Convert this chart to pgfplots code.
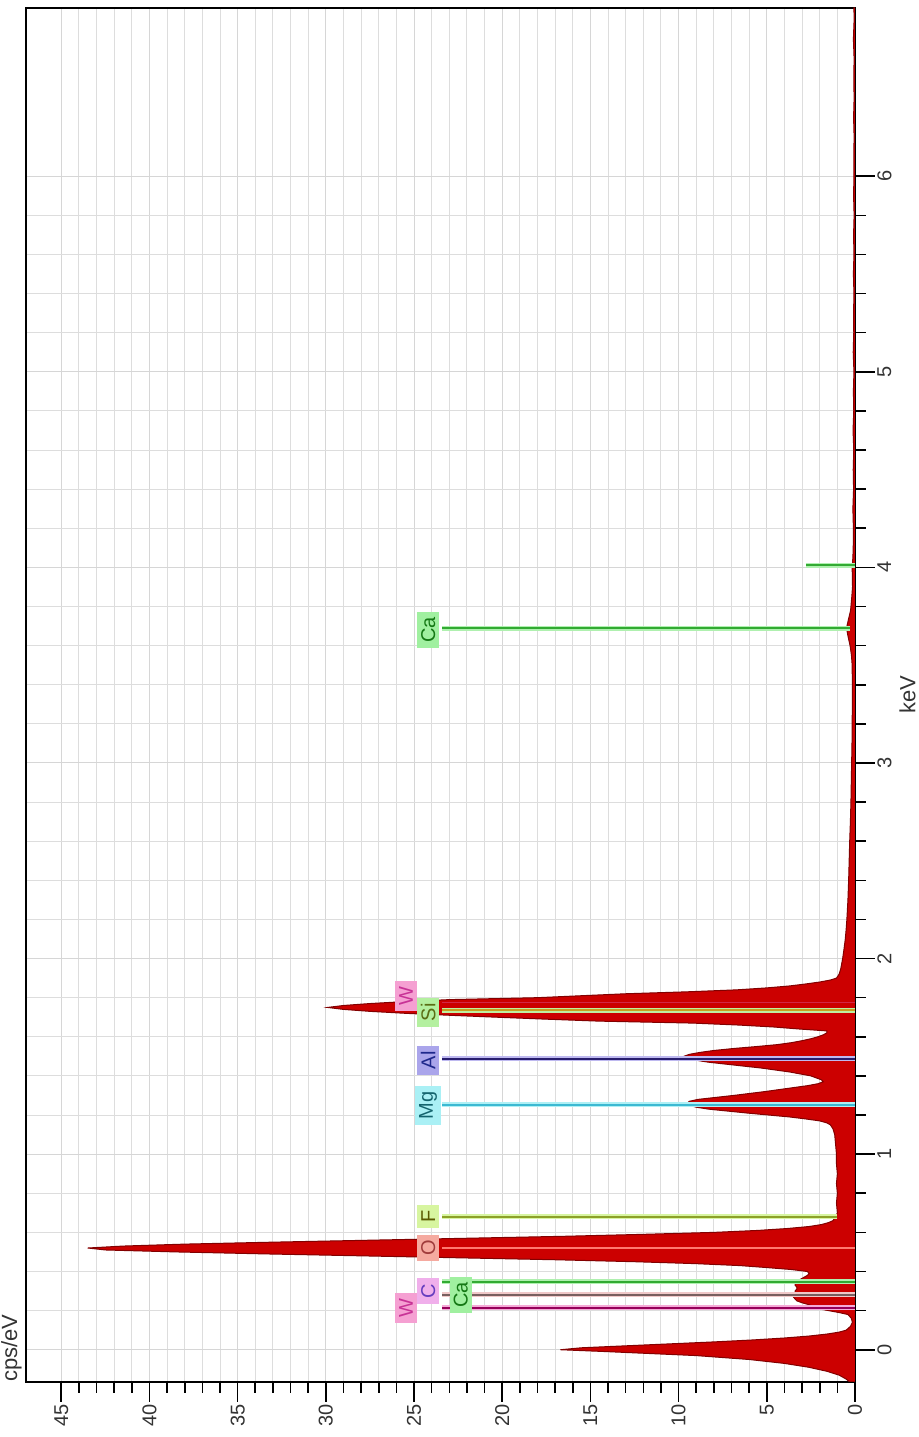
\documentclass[border=0pt]{standalone}
\usepackage{fontspec}
\setmainfont{Liberation Sans}
\usepackage{pgfplots}
\usepackage{pgfplotstable}
\pgfplotsset{compat=1.18}

\definecolor{specfill}{RGB}{204,0,0}
\definecolor{specdraw}{RGB}{130,0,0}
\definecolor{Wcore}{RGB}{150,0,90}
\definecolor{Whalo}{RGB}{245,170,215}
\definecolor{Wbox}{RGB}{245,160,210}
\definecolor{Wtext}{RGB}{200,50,150}
\definecolor{Ccore}{RGB}{120,95,95}
\definecolor{Chalo}{RGB}{240,200,200}
\definecolor{Cbox}{RGB}{240,175,235}
\definecolor{Ctext}{RGB}{100,60,190}
\definecolor{Cacore}{RGB}{50,170,50}
\definecolor{Cahalo}{RGB}{175,240,175}
\definecolor{Cabox}{RGB}{160,240,160}
\definecolor{Catext}{RGB}{20,120,20}
\definecolor{Ocore}{RGB}{255,120,110}
\definecolor{Obox}{RGB}{245,170,160}
\definecolor{Otext}{RGB}{160,60,60}
\definecolor{Fcore}{RGB}{140,160,40}
\definecolor{Fhalo}{RGB}{215,245,160}
\definecolor{Fbox}{RGB}{215,245,160}
\definecolor{Ftext}{RGB}{90,90,0}
\definecolor{Mgcore}{RGB}{60,185,210}
\definecolor{Mghalo}{RGB}{175,240,245}
\definecolor{Mgbox}{RGB}{170,240,245}
\definecolor{Mgtext}{RGB}{20,100,110}
\definecolor{Alcore}{RGB}{40,30,110}
\definecolor{Alhalo}{RGB}{190,185,240}
\definecolor{Albox}{RGB}{170,165,235}
\definecolor{Altext}{RGB}{30,40,140}
\definecolor{Sicore}{RGB}{200,160,30}
\definecolor{Sihalo}{RGB}{190,240,160}
\definecolor{Sibox}{RGB}{180,240,160}
\definecolor{Sitext}{RGB}{90,110,20}
\definecolor{Wtwocore}{RGB}{210,40,70}

\pgfplotstableread{
keV cps
-0.165 0
-0.165 0.3
-0.15 0.5
-0.13 0.9
-0.11 1.6
-0.09 2.6
-0.07 4.0
-0.05 6.0
-0.03 9.0
-0.02 11.5
-0.01 14.0
0.00 16.7
0.01 15.5
0.02 13.0
0.03 10.5
0.04 8.0
0.05 5.8
0.06 4.0
0.07 2.6
0.08 1.6
0.09 0.9
0.10 0.5
0.12 0.25
0.14 0.15
0.16 0.2
0.18 0.4
0.19 0.9
0.20 1.5
0.21 2.1
0.22 2.3
0.23 2.6
0.24 3.0
0.25 3.3
0.26 3.4
0.27 3.5
0.28 3.5
0.29 3.4
0.30 3.4
0.31 3.3
0.32 3.3
0.33 3.4
0.34 3.4
0.35 3.3
0.36 3.1
0.37 2.9
0.38 2.7
0.39 2.6
0.40 2.7
0.41 3.6
0.42 5.0
0.43 6.5
0.44 9.0
0.45 12.5
0.46 17.0
0.47 22.5
0.48 28.0
0.49 33.5
0.50 38.5
0.51 42.5
0.52 43.5
0.53 41.5
0.54 38.0
0.55 33.0
0.56 27.5
0.57 22.0
0.58 16.5
0.59 12.0
0.60 8.0
0.61 5.5
0.62 3.8
0.63 2.6
0.64 1.9
0.65 1.5
0.66 1.25
0.68 1.1
0.70 1.0
0.75 1.05
0.80 1.0
0.85 1.05
0.90 1.0
0.95 1.05
1.00 1.05
1.05 1.1
1.10 1.15
1.13 1.25
1.15 1.4
1.16 1.6
1.17 2.0
1.18 2.8
1.19 3.7
1.20 4.9
1.21 6.1
1.22 7.2
1.23 8.3
1.24 9.0
1.25 9.4
1.26 9.5
1.27 9.4
1.28 8.9
1.29 7.9
1.30 6.9
1.31 6.0
1.32 5.1
1.33 4.3
1.34 3.5
1.35 2.7
1.36 2.1
1.37 1.8
1.38 1.9
1.39 2.2
1.40 2.5
1.41 3.1
1.42 3.7
1.43 4.5
1.44 5.3
1.45 6.3
1.46 7.3
1.47 8.3
1.48 9.0
1.49 9.5
1.50 9.7
1.51 9.4
1.52 8.8
1.53 8.0
1.54 6.9
1.55 5.6
1.56 4.4
1.57 3.6
1.58 3.0
1.59 2.5
1.60 2.1
1.61 1.8
1.62 1.6
1.63 1.6
1.64 3.2
1.65 4.6
1.66 6.6
1.67 9.2
1.68 14.5
1.69 17.5
1.70 20.3
1.71 23.0
1.72 25.5
1.73 27.5
1.74 29.0
1.75 29.9
1.76 29.0
1.77 27.5
1.78 25.5
1.79 23.0
1.80 18.0
1.81 15.5
1.82 13.0
1.83 9.5
1.84 6.7
1.85 5.0
1.86 3.7
1.87 2.8
1.88 2.0
1.89 1.4
1.90 1.05
1.92 0.9
1.95 0.8
2.00 0.70
2.05 0.62
2.10 0.55
2.15 0.50
2.20 0.46
2.30 0.40
2.40 0.36
2.50 0.33
2.60 0.30
2.70 0.26
2.80 0.23
2.90 0.21
3.00 0.19
3.10 0.17
3.20 0.16
3.30 0.15
3.40 0.15
3.50 0.16
3.55 0.20
3.60 0.28
3.65 0.40
3.69 0.48
3.73 0.38
3.78 0.25
3.85 0.18
3.90 0.14
4.00 0.16
4.05 0.12
4.10 0.10
4.20 0.09
4.30 0.12
4.40 0.08
4.50 0.10
4.60 0.07
4.70 0.11
4.80 0.07
4.90 0.09
5.00 0.06
5.10 0.10
5.20 0.07
5.30 0.08
5.40 0.06
5.50 0.09
5.60 0.06
5.70 0.08
5.80 0.05
5.90 0.08
6.00 0.06
6.10 0.07
6.20 0.05
6.30 0.08
6.40 0.05
6.50 0.07
6.60 0.05
6.70 0.09
6.80 0.05
6.86 0.06
6.86 0
}\spec

\begin{document}
\begin{tikzpicture}
\begin{axis}[
  scale only axis,
  width=414.5pt, height=687pt,
  xmin=0, xmax=47, x dir=reverse,
  ymin=-0.165, ymax=6.86,
  xtick={0,5,...,45}, minor x tick num=4,
  ytick={0,1,...,6}, minor y tick num=4,
  xtick pos=bottom, ytick pos=right, yticklabel pos=right,
  tick align=outside,
  major tick length=10pt, minor tick length=5.5pt,
  tick style={black, line width=0.8pt},
  grid=both,
  major grid style={gray!32, line width=0.5pt},
  minor grid style={gray!27, line width=0.5pt},
  axis line style={black, line width=1.1pt},
  /pgf/number format/assume math mode=true,
  ticklabel style={font=\fontsize{10}{12}\selectfont, text=black!80},
  xticklabel style={rotate=90, anchor=east, inner sep=1pt},
  yticklabel style={rotate=90, anchor=north, inner sep=1pt},
]
\addplot[fill=specfill, draw=specdraw, line width=0.5pt] table[x=cps, y=keV] {\spec};

% element lines (halo + core)
\addplot[draw=Whalo, line width=2.5pt] coordinates {(0,0.215) (23.4,0.215)};
\addplot[draw=Wcore, line width=0.9pt] coordinates {(0,0.215) (23.4,0.215)};
\addplot[draw=Chalo, line width=2.5pt] coordinates {(0,0.28) (23.4,0.28)};
\addplot[draw=Ccore, line width=0.9pt] coordinates {(0,0.28) (23.4,0.28)};
\addplot[draw=Cahalo, line width=2.5pt] coordinates {(0,0.347) (23.4,0.347)};
\addplot[draw=Cacore, line width=0.9pt] coordinates {(0,0.347) (23.4,0.347)};
\addplot[draw=Ocore, line width=0.8pt] coordinates {(0,0.52) (23.4,0.52)};
\addplot[draw=Fhalo, line width=2.5pt] coordinates {(1.0,0.68) (23.4,0.68)};
\addplot[draw=Fcore, line width=0.9pt] coordinates {(1.0,0.68) (23.4,0.68)};
\addplot[draw=Mghalo, line width=2.5pt] coordinates {(0,1.253) (23.4,1.253)};
\addplot[draw=Mgcore, line width=0.9pt] coordinates {(0,1.253) (23.4,1.253)};
\addplot[draw=Alhalo, line width=2.5pt] coordinates {(0,1.487) (23.4,1.487)};
\addplot[draw=Alcore, line width=0.9pt] coordinates {(0,1.487) (23.4,1.487)};
\addplot[draw=Sihalo, line width=2.5pt] coordinates {(0,1.735) (23.4,1.735)};
\addplot[draw=Sicore, line width=0.9pt] coordinates {(0,1.735) (23.4,1.735)};
\addplot[draw=Wtwocore, line width=0.8pt] coordinates {(0,1.775) (23.4,1.775)};
\addplot[draw=Cahalo, line width=2.5pt] coordinates {(0.3,3.69) (23.4,3.69)};
\addplot[draw=Cacore, line width=0.9pt] coordinates {(0.3,3.69) (23.4,3.69)};
\addplot[draw=Cahalo, line width=2.5pt] coordinates {(0,4.012) (2.8,4.012)};
\addplot[draw=Cacore, line width=0.9pt] coordinates {(0,4.012) (2.8,4.012)};

% labels
\tikzset{elab/.style={rotate=90, font=\fontsize{10}{11}\selectfont, inner xsep=2.8pt, inner ysep=2pt}}
\node[elab, fill=Wbox, text=Wtext] at (axis cs:25.45,0.215) {W};
\node[elab, fill=Cbox, text=Ctext] at (axis cs:24.2,0.30) {C};
\node[elab, fill=Cabox, text=Catext] at (axis cs:22.35,0.28) {Ca};
\node[elab, fill=Obox, text=Otext] at (axis cs:24.2,0.52) {O};
\node[elab, fill=Fbox, text=Ftext] at (axis cs:24.2,0.68) {F};
\node[elab, fill=Mgbox, text=Mgtext] at (axis cs:24.2,1.25) {Mg};
\node[elab, fill=Albox, text=Altext] at (axis cs:24.2,1.48) {Al};
\node[elab, fill=Sibox, text=Sitext] at (axis cs:24.2,1.725) {Si};
\node[elab, fill=Wbox, text=Wtext] at (axis cs:25.45,1.81) {W};
\node[elab, fill=Cabox, text=Catext] at (axis cs:24.2,3.68) {Ca};
\end{axis}
\node[rotate=90, anchor=south west, inner sep=0pt, font=\fontsize{11}{13}\selectfont, text=black!80]
  at ([xshift=-2pt]current axis.south west) {cps/eV};
\node[rotate=90, anchor=north, inner sep=0pt, font=\fontsize{11}{13}\selectfont, text=black!80]
  at ([xshift=22pt]current axis.east) {keV};
\path ([shift={(-13pt,-27.5pt)}]current axis.south west) rectangle ([shift={(32pt,4pt)}]current axis.north east);
\end{tikzpicture}
\end{document}
